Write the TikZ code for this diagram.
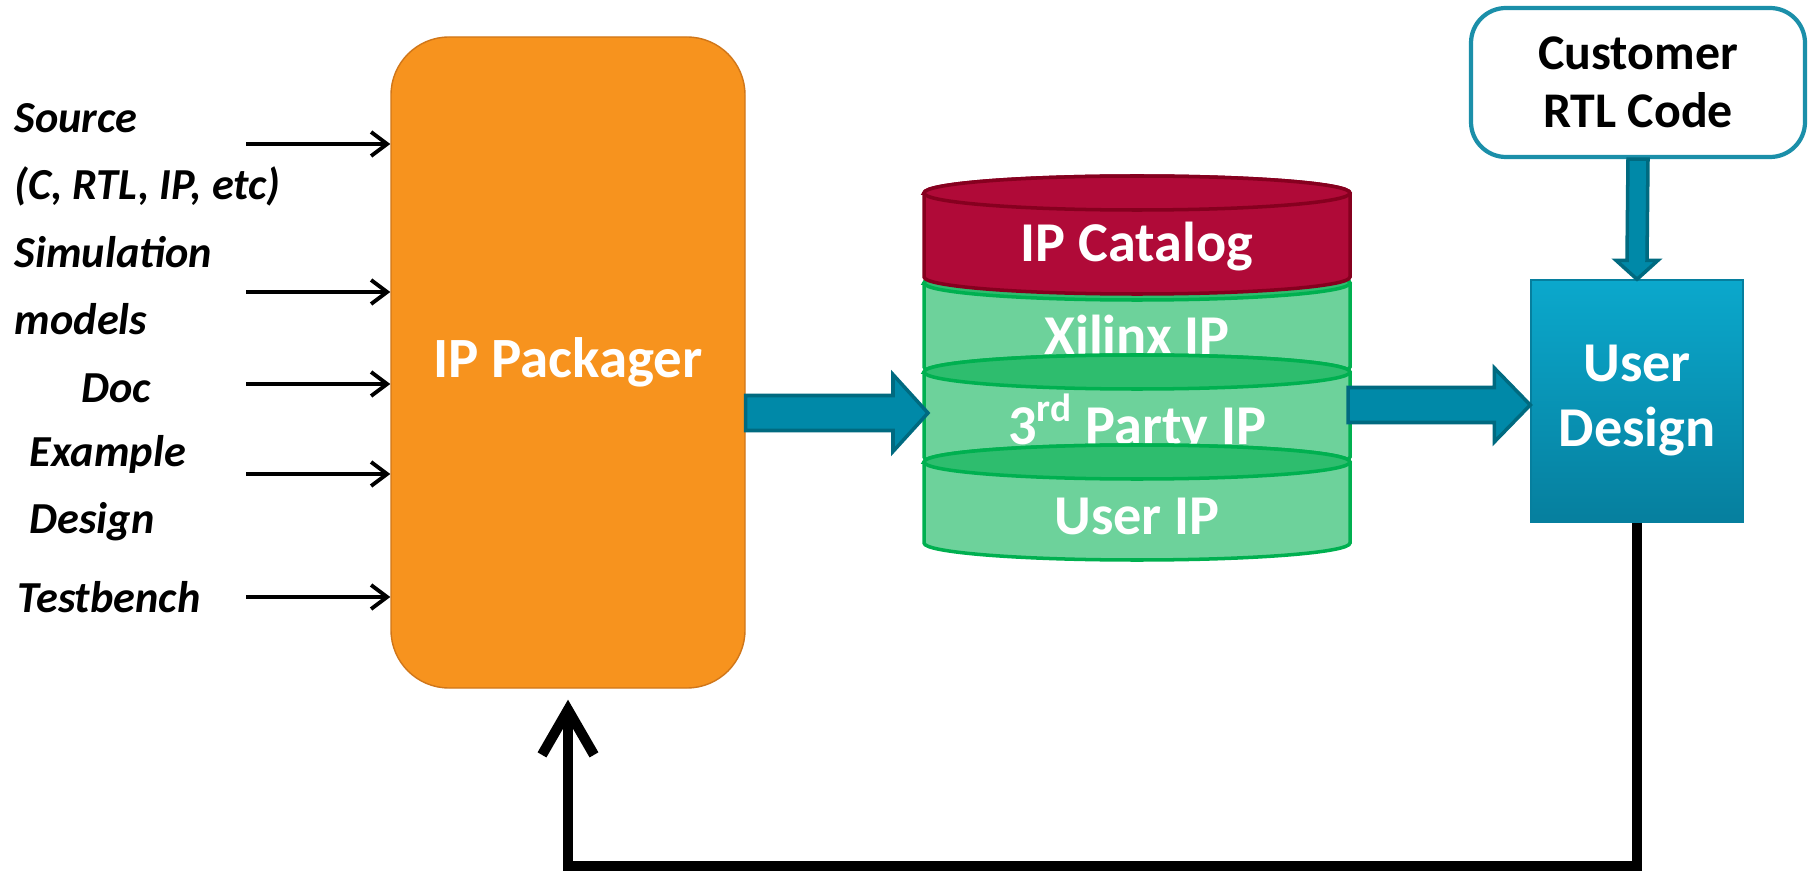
\documentclass[tikz,border=0pt]{standalone}
\usepackage{fontspec}
\setmainfont{Carlito}
\usepackage{xcolor}
\usepackage{tikz}
\usetikzlibrary{arrows.meta,calc}

\definecolor{ipOrange}{HTML}{F7931E}
\definecolor{ipOrangeDark}{HTML}{D07619}
\definecolor{catRed}{HTML}{B00A38}
\definecolor{catRedDark}{HTML}{86001F}
\definecolor{ipGreen}{HTML}{6DD29B}
\definecolor{ipGreenTop}{HTML}{2EBD6E}
\definecolor{ipGreenLine}{HTML}{00B050}
\definecolor{arrowTeal}{HTML}{0089A8}
\definecolor{arrowTealDark}{HTML}{006A80}
\definecolor{designTop}{HTML}{0BA8CC}
\definecolor{designBot}{HTML}{067F9E}
\definecolor{custLine}{HTML}{1B8FA9}

\begin{document}
\begin{tikzpicture}[
    inlabel/.style={anchor=west,inner sep=0pt,align=left,font=\bfseries\itshape\fontsize{12.6}{19}\selectfont},
    inarrow/.style={line width=1.1pt,-{Straight Barb[length=1.6mm,width=2.4mm]}},
    packbox/.style={rounded corners=0.58cm,minimum width=3.54cm,minimum height=6.51cm,fill=ipOrange,draw=ipOrangeDark,text=white,font=\bfseries\fontsize{16.2}{19}\selectfont},
    layer/.style={fill=ipGreen,draw=ipGreenLine,line width=1pt},
    layertop/.style={fill=ipGreenTop,draw=ipGreenLine,line width=1pt},
    catlayer/.style={fill=catRed,draw=catRedDark,line width=1pt},
    cyltext/.style={anchor=base,text=white,font=\bfseries\fontsize{16}{19}\selectfont},
    blockarrow/.style={fill=arrowTeal,draw=arrowTealDark,line width=1pt},
    designbox/.style={minimum width=2.12cm,minimum height=2.42cm,top color=designTop,bottom color=designBot,draw=designBot,text=white,align=center,font=\bfseries\fontsize{16}{18.5}\selectfont},
    custbox/.style={rounded corners=0.35cm,minimum width=3.34cm,minimum height=1.49cm,fill=white,draw=custLine,line width=1.2pt,align=center,font=\bfseries\fontsize{14.2}{16.4}\selectfont},
    feedback/.style={line width=2.9pt,-{Straight Barb[length=4.5mm,width=5.2mm]}}
  ]
    \useasboundingbox (0,0) rectangle (18.12,8.74);
    % Packager and its inputs
    \node[packbox] (pack) at (5.68,5.115) {IP Packager};
    \node[inlabel] (src) at (0.14,7.195) {Source\\(C, RTL, IP, etc)};
    \node[inlabel] (sim) at (0.14,5.885) {Simulation\\models};
    \node[inlabel] (doc) at (0.81,4.86) {Doc};
    \node[inlabel] (ex) at (0.29,3.86) {Example\\Design};
    \node[inlabel] (tb) at (0.17,2.77) {Testbench};
    \foreach \y [count=\i] in {7.30,5.82,4.90,4.00,2.77} {
      \coordinate (in\i) at (2.46,\y);
      \draw[inarrow] (in\i) -- (in\i -| pack.west);
    }
    % Catalog layers, top to bottom
    \foreach \top/\bot/\name/\txt in {5.91/5.07/xilinx/Xilinx IP,5.02/4.17/party/{3\textsuperscript{rd} Party IP},4.12/3.31/userip/User IP} {
      \filldraw[layer] (9.24,\top) -- (9.24,\bot) arc[start angle=180,end angle=360,x radius=2.13,y radius=0.17]
        -- (13.50,\top) arc[start angle=0,end angle=180,x radius=2.13,y radius=0.17] -- cycle;
      \filldraw[layertop] (11.37,\top) ellipse[x radius=2.13,y radius=0.17];
      \node[cyltext] (\name) at (11.37,\top-0.72) {\txt};
    }
    \filldraw[catlayer] (9.24,6.81) -- (9.24,5.97) arc[start angle=180,end angle=360,x radius=2.13,y radius=0.17]
      -- (13.50,6.81) arc[start angle=0,end angle=180,x radius=2.13,y radius=0.17] -- cycle;
    \filldraw[catlayer] (11.37,6.81) ellipse[x radius=2.13,y radius=0.17];
    \node[cyltext] (catalog) at (11.37,6.12) {IP Catalog};
    % Design side
    \node[designbox] (design) at (16.37,4.73) {User\\Design};
    \node[custbox] (cust) at (16.38,7.915) {Customer\\RTL Code};
    % Block arrows
    \coordinate (a1s) at (pack.east |- 0,4.61);
    \coordinate (a1e) at (9.28,4.61);
    \filldraw[blockarrow] ($(a1s)+(0,0.175)$) -- ($(a1e)+(-0.35,0.175)$) -- ($(a1e)+(-0.35,0.385)$) -- (a1e)
      -- ($(a1e)+(-0.35,-0.385)$) -- ($(a1e)+(-0.35,-0.175)$) -- ($(a1s)+(0,-0.175)$) -- cycle;
    \coordinate (a2s) at (13.48,4.69);
    \coordinate (a2e) at (design.west |- a2s);
    \filldraw[blockarrow] ($(a2s)+(0,0.175)$) -- ($(a2e)+(-0.36,0.175)$) -- ($(a2e)+(-0.36,0.37)$) -- (a2e)
      -- ($(a2e)+(-0.36,-0.37)$) -- ($(a2e)+(-0.36,-0.175)$) -- ($(a2s)+(0,-0.175)$) -- cycle;
    \filldraw[blockarrow] ($(cust.south)+(-0.10,0)$) -- ($(design.north)+(-0.10,0.19)$) -- ($(design.north)+(-0.21,0.19)$) -- (design.north)
      -- ($(design.north)+(0.21,0.19)$) -- ($(design.north)+(0.10,0.19)$) -- ($(cust.south)+(0.10,0)$) -- cycle;
    % Feedback loop
    \draw[feedback,shorten >=0.11cm] (design.south) -- (design.south |- 0,0.08) -| (pack.south);
  \end{tikzpicture}
\end{document}
